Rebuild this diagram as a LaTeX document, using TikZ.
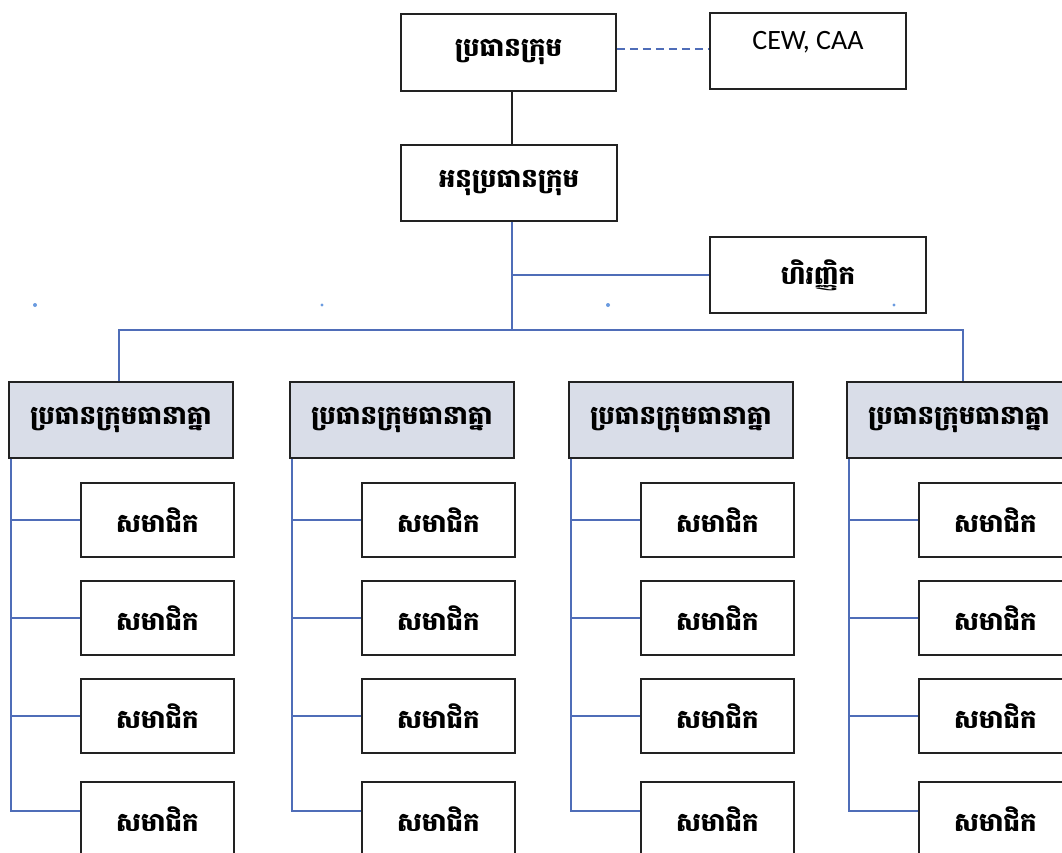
\documentclass[tikz,border=0pt]{standalone}
\usepackage{fontspec}
\setmainfont{Carlito}
\newfontfamily\kh[Script=Khmer]{Battambang}
\definecolor{blueln}{HTML}{4F6DB8}
\definecolor{hdrfill}{HTML}{D9DDE8}
\definecolor{dotblue}{HTML}{6A9BE0}
\definecolor{boxline}{HTML}{222222}
\begin{document}
\begin{tikzpicture}[x=1pt,y=-1pt,
  box/.style={draw=boxline, line width=1.9pt, inner sep=0pt, anchor=north west,
    font=\kh\bfseries\fontsize{26}{30}\selectfont},
  hdr/.style={box, fill=hdrfill, minimum width=224pt, minimum height=76pt},
  member/.style={box, fill=white, minimum width=153pt, minimum height=74pt},
  blueline/.style={draw=blueln, line width=1.7pt},
  blackline/.style={draw=boxline, line width=1.9pt},
  dashline/.style={draw=blueln, line width=2pt, dash pattern=on 8pt off 5pt},
  speck/.style={fill=dotblue}]
\useasboundingbox (0,0) rectangle (1062,852);
\fill[white] (0,0) rectangle (1062,852);

% top level
\node[box, minimum width=215pt, minimum height=77pt] (chief) at (400,13) {ប្រធានក្រុម};
\node[box, minimum width=196pt, minimum height=76pt] (cew) at (709,12) {};
\node[font=\fontsize{28}{32}\selectfont, inner sep=0pt] (cewt) at ([yshift=9pt]cew.center) {CEW, CAA};
\node[box, minimum width=216pt, minimum height=76pt] (deputy) at (400,144) {អនុប្រធានក្រុម};
\node[box, minimum width=216pt, minimum height=76pt] (fin) at (709,236) {ហិរញ្ញិក};

\coordinate (tx) at (512,0);
\coordinate (bus) at (512,330);

\draw[dashline] ([yshift=3.5pt]chief.east) -- ([yshift=3.5pt]chief.east -| cew.west);
\draw[blackline] (chief.south -| tx) -- (deputy.north -| tx);
\draw[blueline] (deputy.south -| tx) -- (bus);
\draw[blueline] (fin.west) -- (fin.west -| tx);

% columns
\foreach \i/\x in {1/8,2/289,3/568,4/846} {
  \node[hdr] (h\i) at (\x,381) {ប្រធានក្រុមធានាគ្នា};
  \foreach \j/\y in {1/482,2/580,3/678,4/781} {
    \node[member] (m\i\j) at (\x+72,\y) {សមាជិក};
  }
  \coordinate (v\i) at ([xshift=3pt]h\i.south west);
  \draw[blueline] (v\i) |- ([yshift=8pt]m\i4.west);
  \foreach \j in {1,2,3} {
    \draw[blueline] (m\i\j.west) -- (v\i |- m\i\j.west);
  }
}

\draw[blueline] ([xshift=-2pt]h1.north) |- (bus) -| ([xshift=4pt]h4.north);

% scan specks
\fill[speck] (35,305) circle (2pt);
\fill[speck] (322,305) circle (1.6pt);
\fill[speck] (608,305) circle (2pt);
\fill[speck] (894,305) circle (1.6pt);
\end{tikzpicture}
\end{document}
